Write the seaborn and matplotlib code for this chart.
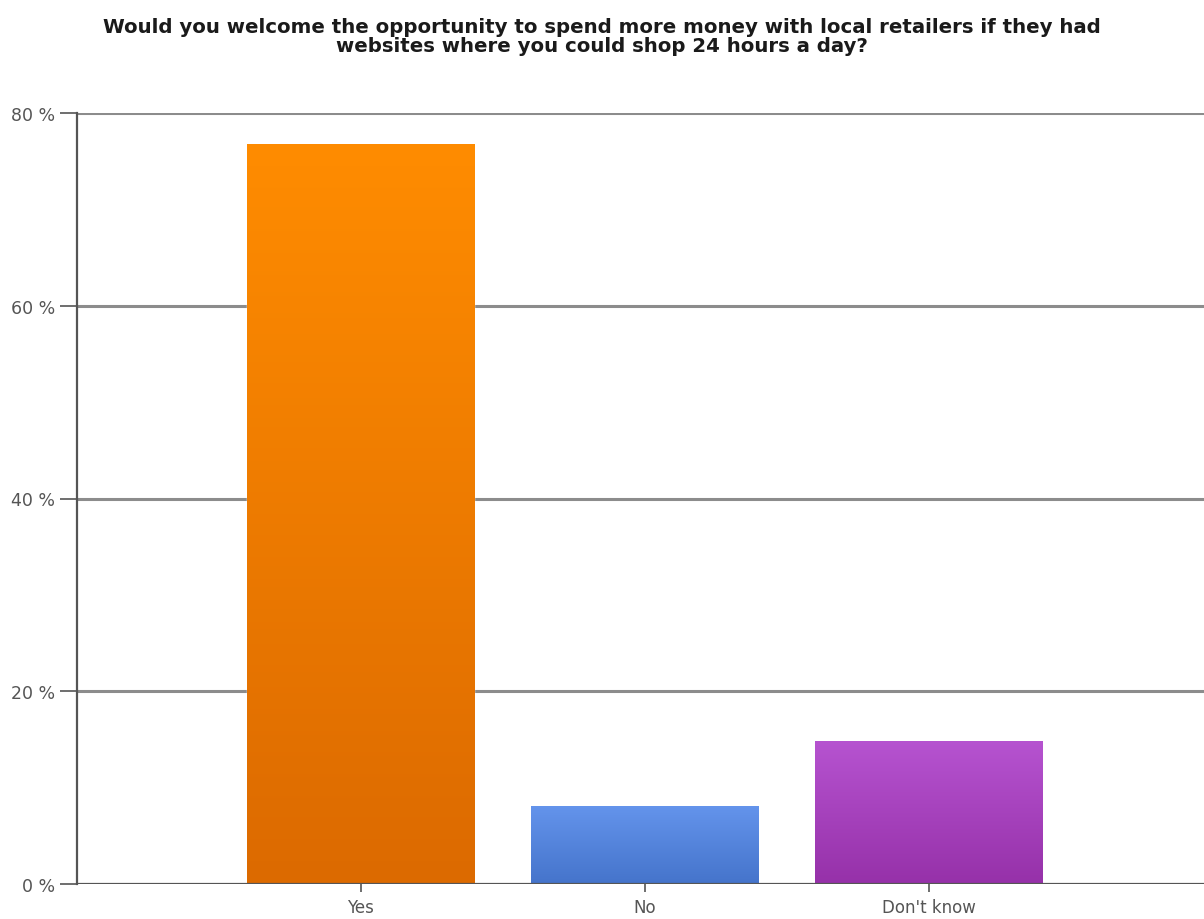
import numpy as np
import pandas as pd
import matplotlib
matplotlib.use("Agg")
import matplotlib.pyplot as plt
import seaborn as sns
from matplotlib.colors import LinearSegmentedColormap

categories = ["Yes", "No", "Don't know"]
values = [76.8, 8.1, 14.8]
top_colors = ["#ff8c00", "#6494ec", "#b653d0"]
bottom_colors = ["#dc6a00", "#4574cb", "#9631a9"]
y_ticks = [0, 20, 40, 60, 80]
y_tick_labels = [f"{t} %" for t in y_ticks]
title = ("Would you welcome the opportunity to spend more money with local retailers if they had\n"
         "websites where you could shop 24 hours a day?")

sns.set_theme(style="white")
plt.rcParams["font.family"] = ["DejaVu Sans"]

df = pd.DataFrame({"answer": categories, "share": values})

fig = plt.figure(figsize=(12.04, 9.2), dpi=100)
ax = fig.add_axes([77 / 1204, 1 - 885 / 920, (1204 - 77) / 1204, (885 - 114) / 920])

sns.barplot(data=df, x="answer", y="share", hue="answer", palette=top_colors,
            width=0.8, legend=False, ax=ax, zorder=3, saturation=1)

# vertical gradient fill for each bar
for patch, c_top, c_bot in zip(ax.patches, top_colors, bottom_colors):
    x0, y0 = patch.get_x(), patch.get_y()
    w, h = patch.get_width(), patch.get_height()
    cmap = LinearSegmentedColormap.from_list("g", [c_bot, c_top])
    grad = np.linspace(0, 1, 256).reshape(-1, 1)
    im = ax.imshow(grad, cmap=cmap, aspect="auto", origin="lower",
                   extent=[x0, x0 + w, y0, y0 + h], zorder=4)
    im.set_clip_path(patch)

ax.set_xlim(-1.0, 2.97)
ax.set_ylim(0, 80)
ax.set_yticks(y_ticks)
ax.set_yticklabels(y_tick_labels)
ax.set_xlabel("")
ax.set_ylabel("")

for t in y_ticks[1:]:
    ax.axhline(t, color="#8c8c8c", lw=2.2, zorder=2)
ax.axhline(0, color="#555555", lw=1.6, zorder=5)

for side in ["top", "right", "bottom"]:
    ax.spines[side].set_visible(False)
ax.spines["left"].set_color("#555555")
ax.spines["left"].set_linewidth(1.6)

ax.tick_params(axis="y", which="major", left=True, length=12, width=1.2,
               color="#555555", labelsize=12.5, labelcolor="#555555", pad=4)
ax.tick_params(axis="x", which="major", bottom=True, length=6, width=1.2,
               color="#555555", labelsize=12, labelcolor="#555555", pad=4)

fig.text(0.5, 1 - 37 / 920, title, ha="center", va="center", fontsize=14.2,
         fontweight="bold", color="#1a1a1a", linespacing=1.05)

fig.savefig("out.png", dpi=100, facecolor="white")
